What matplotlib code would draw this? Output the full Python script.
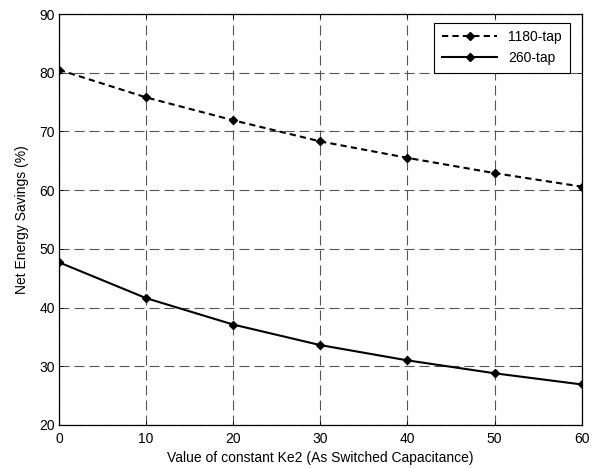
import matplotlib
matplotlib.use("Agg")
import matplotlib.pyplot as plt

ke2 = [0, 10, 20, 30, 40, 50, 60]
tap1180 = [80.5, 75.8, 71.9, 68.3, 65.5, 62.9, 60.6]
tap260 = [47.7, 41.6, 37.1, 33.6, 31.0, 28.8, 26.9]
xticks = [0, 10, 20, 30, 40, 50, 60]
yticks = [20, 30, 40, 50, 60, 70, 80, 90]

plt.rcParams['font.family'] = ['Liberation Sans', 'DejaVu Sans']
plt.rcParams['font.size'] = 10

fig = plt.figure(figsize=(5.96, 4.68), dpi=100)
ax = fig.add_axes([0.099, 0.092, 0.877, 0.878])

ax.plot(ke2, tap1180, color='black', linestyle=(0, (3, 2)), linewidth=1.5,
        marker='D', markersize=4, label='1180-tap')
ax.plot(ke2, tap260, color='black', linestyle='-', linewidth=1.5,
        marker='D', markersize=4, label='260-tap')

ax.set_xlim(0, 60)
ax.set_ylim(20, 90)
ax.set_xticks(xticks)
ax.set_yticks(yticks)
ax.grid(True, color='#555555', linestyle=(0, (9, 4.5)), linewidth=0.8)
ax.tick_params(direction='in', length=3, width=0.6, top=True, right=True,
               labelsize=10)
ax.tick_params(axis='x', pad=5)
ax.tick_params(axis='y', pad=3)
for s in ax.spines.values():
    s.set_linewidth(0.9)

ax.set_xlabel('Value of constant Ke2 (As Switched Capacitance)', fontsize=10, labelpad=4)
ax.set_ylabel('Net Energy Savings (%)', fontsize=10, labelpad=7)

leg = ax.legend(loc='upper right', bbox_to_anchor=(0.977, 0.979),
                fancybox=False, framealpha=1,
                edgecolor='black', fontsize=10, handlelength=4,
                borderaxespad=0, borderpad=0.55, labelspacing=0.5)
leg.get_frame().set_linewidth(0.8)

fig.savefig('out.png', dpi=100)
